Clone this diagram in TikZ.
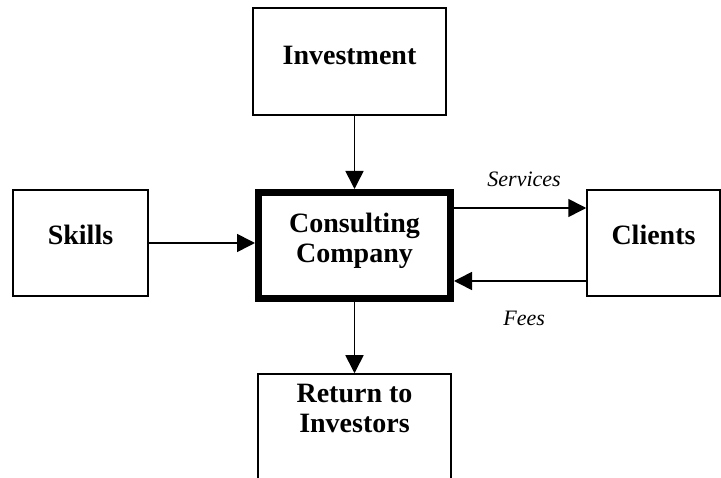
\documentclass[tikz,border=0pt]{standalone}
\usepackage{fontspec}
\setmainfont{Liberation Serif}
\usetikzlibrary{arrows.meta}

\tikzset{
  box/.style={draw,line width=1.5pt,inner sep=0pt,align=center,
    font=\fontsize{28}{30}\selectfont\bfseries,text height=19pt},
  mainbox/.style={box,line width=7pt},
  flow/.style={font=\fontsize{22}{26}\selectfont\itshape}
}

\begin{document}
\begin{tikzpicture}[x=1pt,y=-1pt,node distance=100pt,line width=1.6pt,
    >={Triangle[length=18pt,width=18pt]}]

  \useasboundingbox (0,0) rectangle (721,478);
  \clip (0,0) rectangle (721,478);

  \node[mainbox,minimum width=192pt,minimum height=106pt,text height=49pt,text depth=14pt] (cc) at (354.5,245.5) {Consulting\\Company};

  \node[box,above of=cc,yshift=84pt,xshift=-5pt,minimum width=193pt,minimum height=107pt,text depth=12pt] (inv) {Investment};
  \node[box,left of=cc,xshift=-174pt,yshift=2.5pt,minimum width=135pt,minimum height=106pt,text depth=15pt] (sk) {Skills};
  \node[box,right of=cc,xshift=199pt,yshift=2.5pt,minimum width=133pt,minimum height=106pt,text depth=15pt] (cl) {Clients};
  \node[box,below of=cc,yshift=-83.5pt,minimum width=193pt,minimum height=110pt,text height=49pt,text depth=41pt] (ret) {Return to\\Investors};

  \draw[->] (inv.south -| cc.north) to (cc.north);
  \draw[->] (sk.east) to (sk.east -| cc.west);
  \draw[->] ([yshift=37.5pt]cc.east) to node[flow,above=17pt,xshift=4pt] (svc) {Services} ([yshift=37.5pt]cc.east -| cl.west);
  \draw[->] ([yshift=-35.5pt]cc.east -| cl.west) to node[flow,below=26pt,xshift=4pt] (fee) {Fees} ([yshift=-35.5pt]cc.east);
  \draw[->] (cc.south) to (ret.north);

\end{tikzpicture}
\end{document}
